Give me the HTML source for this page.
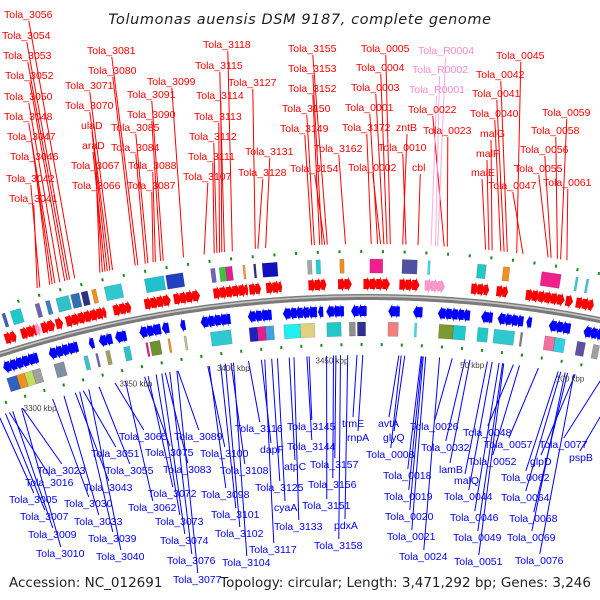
<!DOCTYPE html>
<html><head><meta charset="utf-8">
<style>
html,body{margin:0;padding:0;background:#fff;width:600px;height:600px;overflow:hidden;}
svg{display:block;font-family:"Liberation Sans",sans-serif;overflow:hidden;}
</style></head>
<body>
<svg id="map" width="600" height="600" viewBox="0 0 600 600" xmlns="http://www.w3.org/2000/svg">
<rect width="600" height="600" fill="#fff"/>
<text x="300" y="24" text-anchor="middle" font-style="italic" font-size="14.5" fill="#222" letter-spacing="0.6" font-family="'DejaVu Sans','Liberation Sans',sans-serif">Tolumonas auensis DSM 9187, complete genome</text>
<g id="lines"></g>
<g id="feat"></g>
<g id="labels"></g>
<text x="9" y="587" font-size="13.5" fill="#222" font-family="'DejaVu Sans','Liberation Sans',sans-serif">Accession: NC_012691</text>
<text x="591" y="587" text-anchor="end" font-size="13.5" fill="#222" font-family="'DejaVu Sans','Liberation Sans',sans-serif">Topology: circular; Length: 3,471,292 bp; Genes: 3,246</text>
</svg>
<script>
// ---- data (kbp positions, unwrapped: values > 3471.292 are past the origin) ----
const tickKbp = [3300,3350,3400,3450,3521,3571];
const tickLabels = ["3300 kbp","3350 kbp","3400 kbp","3450 kbp","50 kbp","100 kbp"];

const fwdClusterStart = [3289,3294,3302,3309,3312,3319,3324,3347,3362,3376,3395,3412,3420,3440,3454,3466,3483,3495,3517,3529,3543,3562,3567,3579];
const fwdClusterEnd   = [3291,3299,3309,3311,3318,3322,3343,3355,3374,3388,3411,3417,3427,3448,3460,3478,3492,3504,3525,3534,3561,3565,3575,3582];
const fwdClusterRna   = [0,0,0,1,0,0,0,0,0,0,0,0,0,0,0,0,0,1,0,0,0,0,0,0];

const revClusterStart = [3289,3312,3332,3337,3345,3357,3368,3377,3387,3410,3427,3444,3448,3460,3478,3490,3502,3523,3531,3545,3556,3573];
const revClusterEnd   = [3306,3326,3334,3343,3350,3367,3371,3379,3401,3421,3443,3446,3456,3467,3483,3494,3517,3528,3543,3547,3566,3582];

const fwdBoxStart = [3296,3300,3312,3317,3322,3329,3334,3339,3345,3364,3374,3395,3399,3402,3410,3415,3419,3440,3444,3455,3469,3484,3496,3519,3531,3549,3565,3570];
const fwdBoxEnd   = [3297.5,3305,3314,3319,3328,3333,3337,3341,3353,3373,3382,3397,3402,3405,3411,3416,3426,3442,3446,3457,3475,3491,3497,3523,3534,3558,3566,3571];
const fwdBoxColor = ["#4060c0","#20c8c8","#7060b0","#4080c0","#30c0c8","#3070b0","#303080","#f09020","#30c8d0","#20c0d0","#2040c0","#7060c0","#40c040","#e02090","#f0a040","#303080","#1010c0","#a0a8b0","#20d0d0","#f09020","#f0208c","#5050a0","#30e0f0","#20c8c8","#f09020","#f0208c","#30d0e0","#30d0e0"];

const revBoxStart = [3289,3294,3298,3302,3313,3328,3334,3339,3348,3359,3361,3370,3378,3391,3410,3414,3418,3427,3435,3448,3459,3463,3478,3491,3503,3510,3522,3530,3543,3555,3560,3571,3579];
const revBoxEnd   = [3294,3298,3302,3306,3318,3330,3335,3341,3351,3360,3366,3371,3379,3401,3414,3418,3422,3435,3442,3455,3462,3467,3483,3492,3510,3516,3527,3540,3544,3560,3565,3575,3582];
const revBoxColor = ["#3060c0","#f09020","#c0e060","#a0a0a0","#8090a0","#40c0d0","#7060b0","#a0a060","#30c0c8","#e02090","#709030","#f09020","#c0c090","#30c8d0","#2020c0","#e02090","#40a0e0","#20f0f0","#e0d080","#20c8c8","#909090","#303090","#f08080","#30e0f0","#7a9a30","#20c8d0","#20c8c8","#30c8d0","#808080","#f070a0","#30d0e0","#6050a0","#a0a0a0"];

const redLabelText = ["Tola_3056","Tola_3054","Tola_3053","Tola_3052","Tola_3050","Tola_3048","Tola_3047","Tola_3046","Tola_3042","Tola_3041","Tola_3081","Tola_3080","Tola_3071","Tola_3070","ulaD","araD","Tola_3067","Tola_3066","Tola_3099","Tola_3091","Tola_3090","Tola_3085","Tola_3084","Tola_3088","Tola_3087","Tola_3118","Tola_3115","Tola_3127","Tola_3114","Tola_3113","Tola_3112","Tola_3111","Tola_3107","Tola_3131","Tola_3128","Tola_3155","Tola_3153","Tola_3152","Tola_3150","Tola_3149","Tola_3162","Tola_3154","Tola_0005","Tola_0004","Tola_0003","Tola_0001","Tola_3172","zntB","Tola_0010","Tola_0002","cbl","Tola_0022","Tola_0023","Tola_0045","Tola_0042","Tola_0041","Tola_0040","malG","malF","malE","Tola_0047","Tola_0059","Tola_0058","Tola_0056","Tola_0055","Tola_0061"];
const redLabelKbp = [3332.7,3330.3,3329.2,3328,3325.6,3323.3,3322.1,3320.9,3316.2,3315,3362.2,3361,3350.4,3349.2,3348,3346.9,3345.7,3344.5,3383.4,3374,3372.8,3366.9,3365.7,3370.4,3369.3,3405.9,3402.3,3416.5,3401.1,3400,3398.8,3397.6,3392.9,3421.2,3417.7,3449.5,3447.1,3446,3443.6,3442.4,3457.8,3448.3,3478.3,3476.8,3475.4,3472.5,3469.6,3484,3485.5,3473.9,3491,3503,3504.4,3536.3,3532,3530.5,3529,3525,3523.5,3522,3539.2,3556.6,3555.1,3552.2,3550.8,3559.5];
const redLabelX = [4,2,3,5,4,4,7,10,6,9,87,88,65,65,81,82,71,72,147,127,127,111,111,128,127,203,195,228,196,194,189,188,183,245,238,288,288,288,282,280,314,290,361,356,351,345,342,396,378,348,412,408,423,496,476,472,470,480,476,471,488,542,531,520,514,543];
const redLabelY = [18,39,59,79,100,120,140,160,182,202,54,74,89,109,129,149,169,189,85,98,118,131,151,169,189,48,69,86,99,120,140,160,180,155,176,52,72,92,112,132,152,172,52,71,91,111,131,131,151,171,171,113,134,59,78,97,117,137,157,176,189,116,134,153,172,186];

const rnaLabelText = ["Tola_R0004","Tola_R0002","Tola_R0001"];
const rnaLabelKbp = [3500,3499,3497];
const rnaLabelX = [418,412,409];
const rnaLabelY = [54,73,93];

const blueLabelText = ["Tola_3065","Tola_3089","Tola_3116","Tola_3051","Tola_3075","Tola_3100","dapF","Tola_3023","Tola_3055","Tola_3083","Tola_3108","atpC","Tola_3016","Tola_3043","Tola_3125","Tola_3005","Tola_3030","Tola_3072","Tola_3098","Tola_3062","cyaA","Tola_3007","Tola_3033","Tola_3073","Tola_3101","Tola_3009","Tola_3039","Tola_3102","Tola_3133","Tola_3074","Tola_3117","Tola_3010","Tola_3040","Tola_3076","Tola_3104","Tola_3077","Tola_3145","Tola_3144","Tola_3157","Tola_3156","Tola_3151","pdxA","Tola_3158","trmE","rnpA","avtA","glyQ","Tola_0026","Tola_0008","Tola_0032","lamB","Tola_0018","malQ","Tola_0048","Tola_0057","Tola_0052","Tola_0077","glpD","pspB","Tola_0062","Tola_0019","Tola_0044","Tola_0064","Tola_0020","Tola_0046","Tola_0068","Tola_0021","Tola_0049","Tola_0069","Tola_0024","Tola_0051","Tola_0076"];
const blueLabelKbp = [3340.1,3372.3,3408.1,3323.7,3355.3,3387.5,3414.6,3292,3331.9,3365.9,3399.3,3428.6,3285,3319.6,3419.8,3279.5,3307.8,3357.1,3388.2,3345.4,3422.7,3283,3313.7,3361.2,3394,3286.8,3321.9,3396.4,3431,3364.1,3416.3,3291.5,3326.6,3368.2,3400.5,3371.8,3438.6,3437.5,3452.1,3450.9,3447.4,3458,3454.4,3462.7,3465.6,3483.7,3486.7,3510.6,3484.9,3517,3519.5,3494.9,3528.3,3541.4,3554.1,3544.5,3586.1,3572.8,3595.7,3564.2,3495.4,3530.7,3565.5,3496,3534.2,3568.9,3497.2,3536,3567.7,3504.2,3536.5,3572.2];
const blueLabelX = [119,174,235,91,145,200,260,37,105,163,220,284,25,84,255,9,64,148,201,128,274,20,74,155,211,28,88,215,274,160,249,36,96,167,222,173,287,287,310,308,302,334,314,342,347,378,383,410,366,421,439,383,454,463,484,468,539,530,569,501,384,444,501,385,450,509,387,453,507,399,454,515];
const blueLabelY = [440,440,432,457,456,457,453,474,474,473,474,470,486,491,491,503,507,497,498,511,511,520,525,525,518,538,542,537,530,544,553,557,560,564,566,583,430,450,468,488,509,529,549,427,441,427,441,430,458,451,473,479,484,436,448,465,448,465,461,481,500,500,501,520,521,522,540,541,541,560,565,564];

// ---- geometry ----
const CX = 366, CY = 1493, R = 1196, S = 0.00175, A0 = -0.0301;
const NS = "http://www.w3.org/2000/svg";
function ang(k){ return A0 + (k - 3450) * S; }
function P(k, r){ const a = ang(k); return [CX + r * Math.sin(a), CY - r * Math.cos(a)]; }
function mk(tag, parent){ const e = document.createElementNS(NS, tag); parent.appendChild(e); return e; }
function pts(list){ return list.map(p => p[0].toFixed(1) + "," + p[1].toFixed(1)).join(" "); }

const gL = document.getElementById("lines");
const gF = document.getElementById("feat");
const gT = document.getElementById("labels");

// backbone (visible portion only)
function arcPts(r){ const a = []; for (let k = 3280; k <= 3590; k += 2) a.push(P(k, r)); return pts(a); }
const bb = mk("polyline", gF);


bb.setAttribute("points", arcPts(R));
bb.setAttribute("fill", "none"); bb.setAttribute("stroke", "#7a7a7a"); bb.setAttribute("stroke-width", "6");
const bh = mk("polyline", gF);


bh.setAttribute("points", arcPts(R + 0.8));
bh.setAttribute("fill", "none"); bh.setAttribute("stroke", "#c4c4c4"); bh.setAttribute("stroke-width", "1.6");

// arrows
function arrow(k0, k1, r1, r2, dir, color, name){
  const km = dir > 0 ? k0 + 0.5 * (k1 - k0) : k1 - 0.5 * (k1 - k0);
  const mid = (r1 + r2) / 2;
  let p;
  if (dir > 0) p = [P(k0, r1 + 2), P(km, r1 + 2), P(km, r1), P(k1, mid), P(km, r2), P(km, r2 - 2), P(k0, r2 - 2)];
  else p = [P(k1, r1 + 2), P(km, r1 + 2), P(km, r1), P(k0, mid), P(km, r2), P(km, r2 - 2), P(k1, r2 - 2)];
  const e = mk("polygon", gF);
  
  
  e.setAttribute("points", pts(p));
  e.setAttribute("fill", color);
  e.setAttribute("stroke", "rgba(0,0,0,0.15)");
  e.setAttribute("stroke-width", "0.4");
}
for (let i = 0; i < fwdClusterStart.length; i++){
  const col = fwdClusterRna[i] ? "#ff99cc" : "#ff0000";
  for (let k = fwdClusterStart[i]; k < fwdClusterEnd[i] - 0.5; k += 3.0){
    arrow(k, Math.min(k + 3.6, fwdClusterEnd[i] + 0.5), R + 6, R + 20, 1, col, "forward-gene-arrow");
  }
}
for (let i = 0; i < revClusterStart.length; i++){
  for (let k = revClusterStart[i]; k < revClusterEnd[i] - 0.5; k += 3.0){
    arrow(k, Math.min(k + 3.6, revClusterEnd[i] + 0.5), R - 21, R - 7, -1, "#0000ff", "reverse-gene-arrow");
  }
}

// COG boxes
function box(k0, k1, r1, r2, color, name){
  const e = mk("polygon", gF);
  
  
  e.setAttribute("points", pts([P(k0, r1), P(k1, r1), P(k1, r2), P(k0, r2)]));
  e.setAttribute("fill", color);
  e.setAttribute("stroke", "rgba(0,0,0,0.25)");
  e.setAttribute("stroke-width", "0.5");
}
for (let i = 0; i < fwdBoxStart.length; i++) box(fwdBoxStart[i], fwdBoxEnd[i], R + 24, R + 38, fwdBoxColor[i], "forward-cog-box");
for (let i = 0; i < revBoxStart.length; i++) box(revBoxStart[i], revBoxEnd[i], R - 39, R - 25, revBoxColor[i], "reverse-cog-box");

// green marks
for (let k = 3285; k <= 3585; k += 10){
  [[R + 44, R + 47], [R - 49, R - 46]].forEach(rr => {
    const a = P(k, rr[0]), b = P(k, rr[1]);
    const e = mk("line", gF);
    
    
    e.setAttribute("x1", a[0]); e.setAttribute("y1", a[1]); e.setAttribute("x2", b[0]); e.setAttribute("y2", b[1]);
    e.setAttribute("stroke", "#1a8a1a"); e.setAttribute("stroke-width", "2");
  });
}

// tick labels
for (let i = 0; i < tickKbp.length; i++){
  const p = P(tickKbp[i], R - 66);
  const t = mk("text", gT);
  
  
  t.setAttribute("x", p[0].toFixed(1)); t.setAttribute("y", p[1].toFixed(1));
  t.setAttribute("text-anchor", "middle");
  t.setAttribute("font-size", "8");
  t.setAttribute("fill", "#444");
  t.textContent = tickLabels[i];
}

// labels + leader lines
function label(text, x, y, k, color, lineColor, top){
  const t = mk("text", gT);
  
  
  t.setAttribute("x", x); t.setAttribute("y", y);
  t.setAttribute("font-size", "10.5");
  t.setAttribute("fill", color);
  t.textContent = text;
  const w = text.length * 5.5;
  const ax = x + w / 2;
  const ay = top ? y + 3 : y - 10;
  const e = P(k, top ? R + 53 : R - 58);
  const l = mk("line", gL);
  
  
  l.setAttribute("x1", ax.toFixed(1)); l.setAttribute("y1", ay);
  l.setAttribute("x2", e[0].toFixed(1)); l.setAttribute("y2", e[1].toFixed(1));
  l.setAttribute("stroke", lineColor); l.setAttribute("stroke-width", "1");
}
for (let i = 0; i < redLabelText.length; i++) label(redLabelText[i], redLabelX[i], redLabelY[i], redLabelKbp[i], "#ff0000", "#ff0000", true);
for (let i = 0; i < rnaLabelText.length; i++) label(rnaLabelText[i], rnaLabelX[i], rnaLabelY[i], rnaLabelKbp[i], "#ff88cc", "#ffaadd", true);
for (let i = 0; i < blueLabelText.length; i++) label(blueLabelText[i], blueLabelX[i], blueLabelY[i], blueLabelKbp[i], "#0000ff", "#0000ff", false);
</script>
</body></html>
